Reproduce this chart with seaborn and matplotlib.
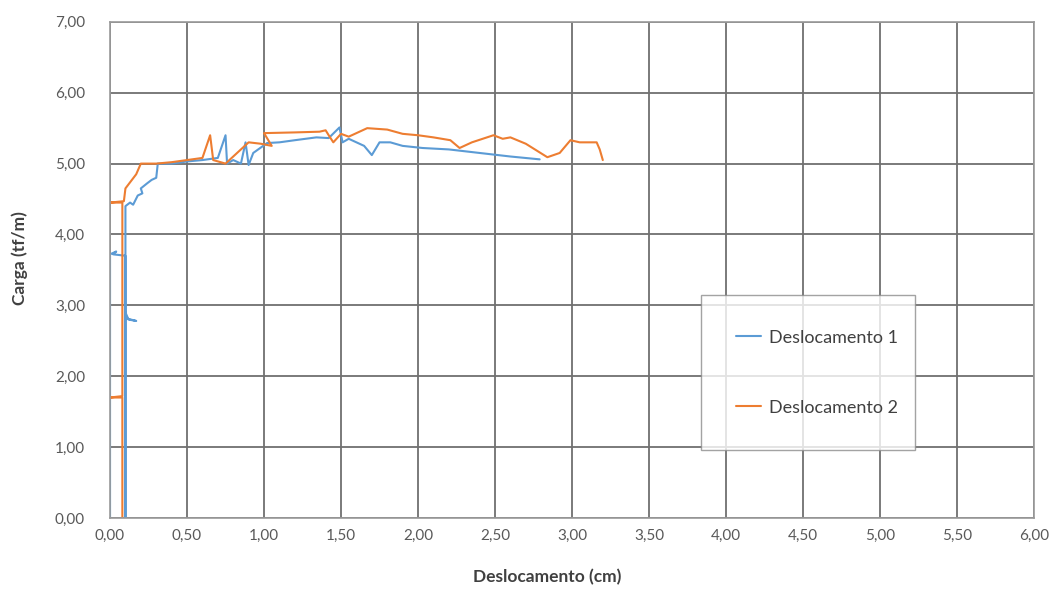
import numpy as np
import pandas as pd
import matplotlib
matplotlib.use("Agg")
import matplotlib.pyplot as plt
from matplotlib.ticker import FuncFormatter, MultipleLocator
import seaborn as sns

# Deslocamento 1 (azul)
desl1_x = [0.00, 0.00, 0.04, 0.02, 0.10, 0.10, 0.10, 0.12, 0.17, 0.10, 0.10, 0.13,
           0.15, 0.18, 0.21, 0.20, 0.24, 0.27, 0.30, 0.31, 0.40, 0.50, 0.60, 0.70,
           0.75, 0.76, 0.80, 0.85, 0.88, 0.90, 0.93, 1.02, 1.10, 1.20, 1.34, 1.42,
           1.49, 1.51, 1.55, 1.60, 1.65, 1.70, 1.75, 1.82, 1.90, 2.03, 2.20, 2.40,
           2.60, 2.79]
desl1_y = [0.00, 3.72, 3.76, 3.72, 3.70, 0.00, 2.90, 2.80, 2.78, 2.82, 4.40, 4.45,
           4.42, 4.55, 4.58, 4.65, 4.72, 4.77, 4.80, 5.00, 5.00, 5.03, 5.05, 5.08,
           5.40, 5.00, 5.05, 5.00, 5.30, 4.98, 5.15, 5.29, 5.30, 5.33, 5.37, 5.36,
           5.51, 5.30, 5.35, 5.30, 5.25, 5.12, 5.30, 5.30, 5.25, 5.22, 5.20, 5.15,
           5.10, 5.06]

# Deslocamento 2 (laranja)
desl2_x = [0.08, 0.08, 0.00, 0.08, 0.08, 0.00, 0.09, 0.10, 0.17, 0.20, 0.30, 0.40,
           0.50, 0.60, 0.65, 0.67, 0.75, 0.80, 0.85, 0.90, 0.98, 1.05, 1.00, 1.20,
           1.36, 1.40, 1.42, 1.45, 1.50, 1.55, 1.67, 1.80, 1.90, 2.00, 2.10, 2.21,
           2.27, 2.35, 2.49, 2.55, 2.60, 2.70, 2.84, 2.92, 2.99, 3.05, 3.10, 3.16,
           3.18, 3.20]
desl2_y = [0.00, 1.70, 1.70, 1.72, 4.45, 4.45, 4.47, 4.65, 4.85, 5.00, 5.00, 5.02,
           5.05, 5.08, 5.40, 5.05, 5.00, 5.10, 5.20, 5.30, 5.28, 5.25, 5.43, 5.44,
           5.45, 5.47, 5.40, 5.30, 5.42, 5.38, 5.50, 5.48, 5.42, 5.40, 5.37, 5.33,
           5.22, 5.30, 5.40, 5.35, 5.37, 5.28, 5.09, 5.15, 5.33, 5.30, 5.30, 5.30,
           5.20, 5.05]

series_names = ["Deslocamento 1", "Deslocamento 2"]
colors = ["#5B9BD5", "#ED7D31"]

df = pd.concat([
    pd.DataFrame({"x": desl1_x, "y": desl1_y, "serie": series_names[0]}),
    pd.DataFrame({"x": desl2_x, "y": desl2_y, "serie": series_names[1]}),
], ignore_index=True)

sns.set_style("white")
plt.rcParams["font.family"] = ["Lato", "DejaVu Sans"]

fig = plt.figure(figsize=(10.54, 5.90), dpi=100)
ax = fig.add_axes([0.1044, 0.122, 0.8766, 0.841])

sns.lineplot(data=df, x="x", y="y", hue="serie", palette=colors,
             sort=False, estimator=None, linewidth=1.5, ax=ax)

ax.set_xlim(0, 6)
ax.set_ylim(0, 7)
ax.xaxis.set_major_locator(MultipleLocator(0.5))
ax.yaxis.set_major_locator(MultipleLocator(1.0))
fmt = FuncFormatter(lambda v, p: f"{v:.2f}".replace(".", ","))
ax.xaxis.set_major_formatter(fmt)
ax.yaxis.set_major_formatter(fmt)
ax.grid(True, color="#707070", linewidth=1.3)
ax.set_axisbelow(True)
for s in ax.spines.values():
    s.set_color("#9a9a9a")
    s.set_linewidth(1.2)
ax.tick_params(length=0, labelsize=11, labelcolor="#595959")
ax.tick_params(axis="x", pad=8)
ax.tick_params(axis="y", pad=18)

ax.set_xlabel("Deslocamento (cm)", fontsize=12.5, fontweight="bold", color="#404040")
ax.set_ylabel("Carga (tf/m)", fontsize=12.5, fontweight="bold", color="#404040")
ax.xaxis.set_label_coords(0.473, -0.103)
ax.yaxis.set_label_coords(-0.089, 0.524)

leg = ax.legend(loc="lower left", bbox_to_anchor=(0.64, 0.137, 0.231, 0.309),
                mode="expand", frameon=True, fancybox=False, fontsize=13,
                handlelength=1.4, handletextpad=0.45, labelspacing=3.0,
                borderpad=1.9, borderaxespad=0)
leg.get_frame().set_edgecolor("#8c8c8c")
leg.get_frame().set_linewidth(1.0)
for t in leg.get_texts():
    t.set_color("#404040")

fig.savefig("out.png", dpi=100)
